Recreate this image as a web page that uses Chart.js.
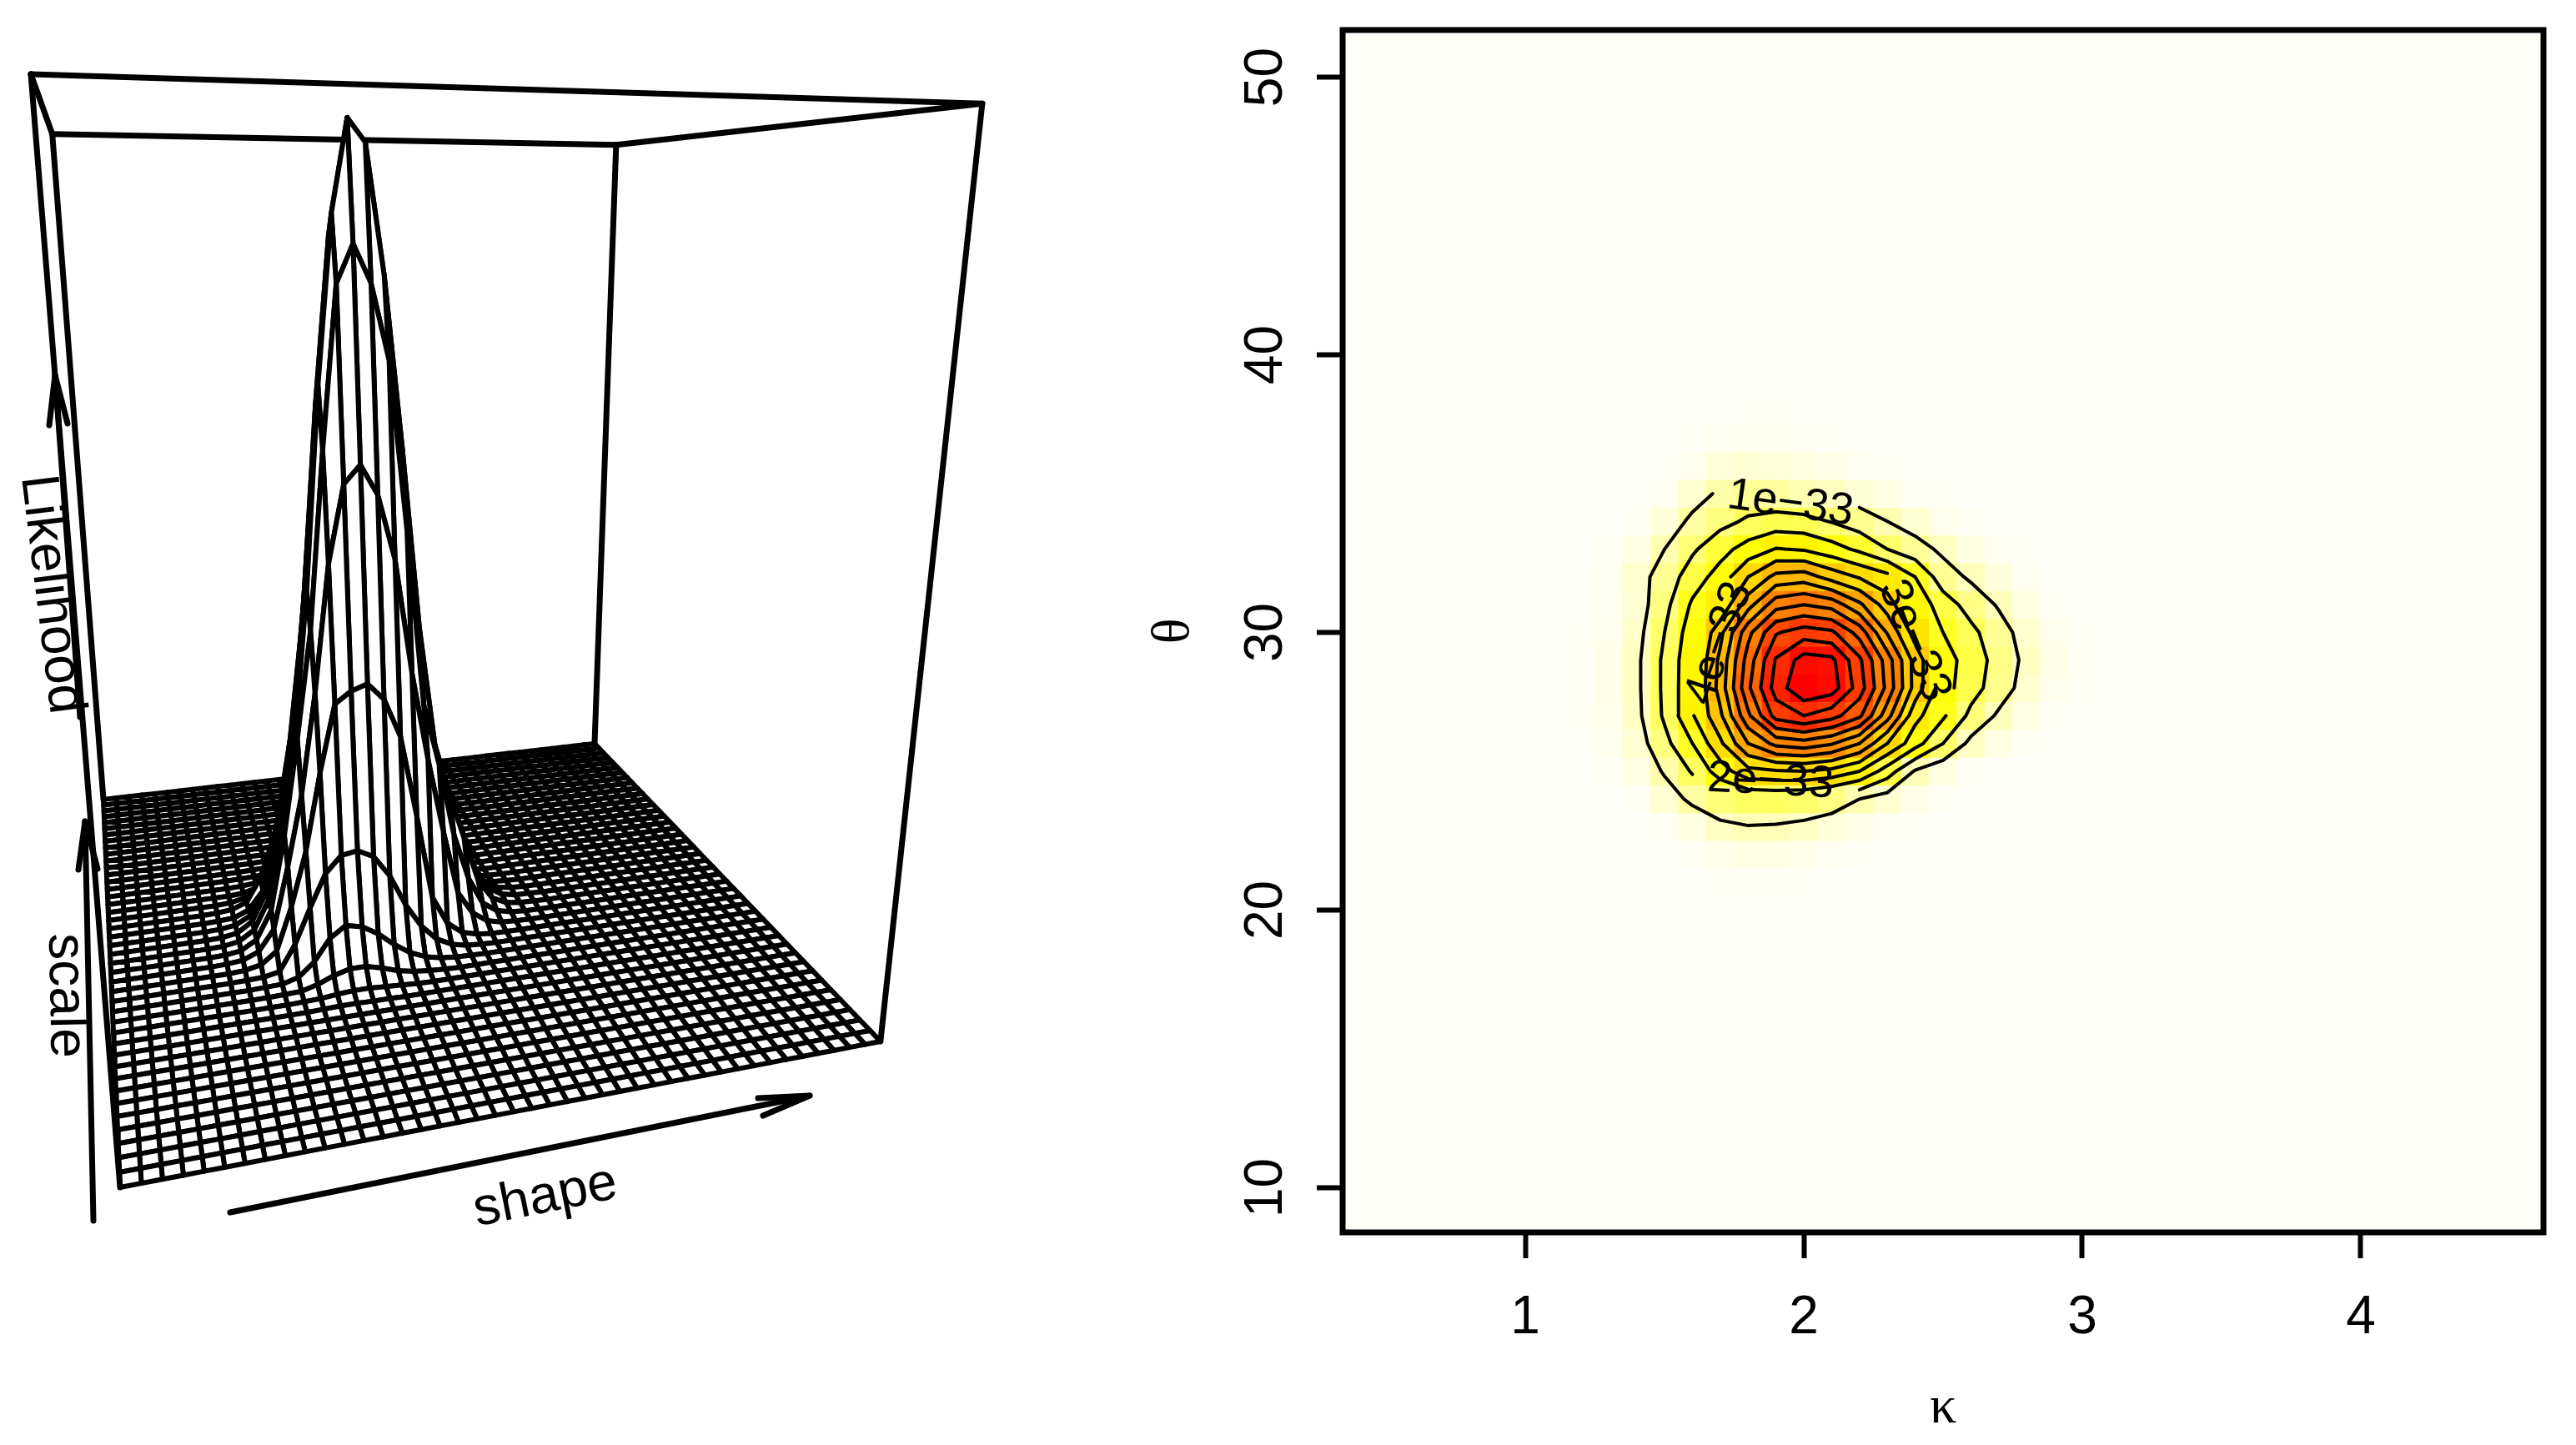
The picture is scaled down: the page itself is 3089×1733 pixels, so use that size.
<!DOCTYPE html>
<html><head><meta charset="utf-8">
<script src="https://cdn.jsdelivr.net/npm/chart.js@4"></script>
<style>html,body{margin:0;padding:0;background:#fff}canvas{position:absolute;top:0}</style>
</head><body>
<canvas id="persp" width="1300" height="1733" style="left:0"></canvas>
<canvas id="heat" width="1789" height="1733" style="left:1300px"></canvas>
<script>
// Full evaluation grid
const kappaGrid=[0.4,0.5,0.6,0.7,0.8,0.9,1.0,1.1,1.2,1.3,1.4,1.5,1.6,1.7,1.8,1.9,2.0,2.1,2.2,2.3,2.4,2.5,2.6,2.7,2.8,2.9,3.0,3.1,3.2,3.3,3.4,3.5,3.6,3.7,3.8,3.9,4.0,4.1,4.2,4.3,4.4,4.5,4.6];
const thetaGrid=[9,10,11,12,13,14,15,16,17,18,19,20,21,22,23,24,25,26,27,28,29,30,31,32,33,34,35,36,37,38,39,40,41,42,43,44,45,46,47,48,49,50,51];
// Likelihood (units of 1e-33); everything outside is ~0
const kappaRead=[1.1,1.2,1.3,1.4,1.5,1.6,1.7,1.8,1.9,2.0,2.1,2.2,2.3,2.4,2.5,2.6,2.7,2.8,2.9,3.0,3.1,3.2];
const thetaRead=[38,37,36,35,34,33,32,31,30,29,28,27,26,25,24,23,22,21,20];
const L38=[0,0,0,0,.01,.02,.04,.06,.05,.03,.02,.01,0,0,0,0,0,0,0,0,0,0];
const L37=[0,0,0,.01,.02,.06,.14,.2,.17,.12,.07,.03,.01,0,0,0,0,0,0,0,0,0];
const L36=[0,0,.01,.02,.05,.2,.45,.55,.45,.35,.25,.15,.06,.03,.01,0,0,0,0,0,0,0];
const L35=[0,0,.01,.04,.15,.6,1.15,1.4,1.25,1.0,.8,.5,.3,.12,.05,.02,.01,0,0,0,0,0];
const L34=[0,0,.02,.1,.45,1.2,1.7,2.15,2.4,2.33,1.95,1.5,1.0,.55,.2,.08,.03,.01,0,0,0,0];
const L33=[0,.02,.08,.3,1.0,1.85,2.65,3.4,4.05,3.9,3.4,2.8,2.0,1.4,.8,.35,.15,.05,.02,0,0,0];
const L32=[.01,.04,.15,.62,1.42,2.5,3.4,5.0,6.3,6.5,5.6,4.9,4.3,3.0,1.45,.85,.4,.13,.04,.01,0,0];
const L31=[.01,.03,.15,.5,1.7,3.15,4.1,6.6,8.6,9.0,8.6,7.2,5.5,3.7,2.5,1.6,.9,.35,.1,.03,.01,0];
const L30=[.01,.05,.2,.67,2.0,3.55,5.7,8.7,10.9,11.5,11.2,9.6,6.9,4.55,3.0,2.25,1.4,.6,.2,.06,.02,0];
const L29=[.01,.06,.25,.8,2.2,3.75,6.25,9.45,12.1,13.45,13.25,11.2,8.5,5.6,3.5,2.5,1.65,.75,.25,.08,.02,.01];
const L28=[.01,.06,.25,.8,2.2,3.8,6.4,9.8,12.45,13.85,13.5,11.5,8.7,5.6,3.4,2.4,1.5,.6,.2,.06,.02,.01];
const L27=[.01,.05,.22,.75,2.15,3.9,5.8,8.8,11.4,12.0,11.4,10.2,7.4,4.3,3.15,1.75,.85,.3,.1,.03,.01,0];
const L26=[.01,.04,.16,.55,1.7,3.0,4.8,7.0,8.3,8.6,8.1,7.0,5.0,3.4,2.0,.75,.3,.1,.03,.01,0,0];
const L25=[0,.02,.08,.3,1.1,2.1,3.5,4.7,4.9,5.0,4.7,4.0,2.5,.9,.35,.12,.04,.01,0,0,0,0];
const L24=[0,.01,.02,.08,.55,1.2,1.8,2.1,2.15,2.0,1.6,1.0,.55,.25,.1,.03,.01,0,0,0,0,0];
const L23=[0,0,.01,.02,.1,.35,.75,.95,.88,.7,.45,.25,.12,.05,.02,.01,0,0,0,0,0,0];
const L22=[0,0,0,.01,.02,.1,.22,.3,.3,.22,.12,.06,.03,.01,0,0,0,0,0,0,0,0];
const L21=[0,0,0,0,.01,.02,.05,.07,.07,.05,.03,.01,0,0,0,0,0,0,0,0,0,0];
const L20=[0,0,0,0,0,.01,.02,.02,.01,.01,0,0,0,0,0,0,0,0,0,0,0,0];
const rowsRead=[L38,L37,L36,L35,L34,L33,L32,L31,L30,L29,L28,L27,L26,L25,L24,L23,L22,L21,L20];
const peakValue=13.85;
const contourLevels=[1,2,3,4,5,6,7,8,9,10,11,12,13];
const kappaTicks=[1,2,3,4];
const thetaTicks=[10,20,30,40,50];
// Contour labels and the gaps R leaves in the line around each one
const contourLabels=[
 {text:'1e\u221233',k:1.952,t:34.62,angle:8},
 {text:'2e\u221233',k:1.88,t:24.62,angle:3},
 {text:'4e\u221233',k:1.697,t:29.6,angle:-71},
 {text:'3e\u221233',k:2.396,t:29.7,angle:68}];
const contourGaps=[[1,1.672,2.219,34,36],[2,1.605,2.205,23,24.9],[3,2.45,2.6,27.05,28],[4,1.5,1.79,26.98,32.3],[4,2.3,2.7,28.2,32.3]];

function value(k,t){
  const i=thetaRead.indexOf(t), j=kappaRead.findIndex(q=>Math.abs(q-k)<1e-6);
  return (i<0||j<0)?0:rowsRead[i][j];
}
function heat(v){
  const t=Math.min(1,v/peakValue);
  if(t<.25) return `rgb(255,255,${Math.round(250*(1-t/.25))})`;
  return `rgb(255,${Math.round(255*(1-(t-.25)/.75))},0)`;
}
function contourSegments(level){
  const out=[];
  const h=(a,b,va,vb)=>a+(b-a)*(level-va)/(vb-va);
  for(let r=0;r<thetaRead.length-1;r++)for(let c=0;c<kappaRead.length-1;c++){
    const t1=thetaRead[r],t0=thetaRead[r+1],k0=kappaRead[c],k1=kappaRead[c+1];
    const a=rowsRead[r+1][c],b=rowsRead[r+1][c+1],d=rowsRead[r][c],e=rowsRead[r][c+1];
    const p=[];
    if((a<level)!==(b<level))p.push({x:h(k0,k1,a,b),y:t0});
    if((b<level)!==(e<level))p.push({x:k1,y:h(t0,t1,b,e)});
    if((e<level)!==(d<level))p.push({x:h(k1,k0,e,d),y:t1});
    if((d<level)!==(a<level))p.push({x:k0,y:h(t1,t0,d,a)});
    for(let i=0;i+1<p.length;i+=2){
      const mx=(p[i].x+p[i+1].x)/2,my=(p[i].y+p[i+1].y)/2;
      if(contourGaps.some(g=>g[0]===level&&mx>g[1]&&mx<g[2]&&my>g[3]&&my<g[4]))continue;
      out.push(p[i],p[i+1],{x:NaN,y:NaN});
    }
  }
  return out;
}

/* ---------- right panel ---------- */
const cells=[],cellColors=[];
thetaGrid.forEach(t=>kappaGrid.forEach(k=>{cells.push({x:k,y:t});cellColors.push(heat(value(k,t)));}));
const textFont=n=>`${n}px "Liberation Sans"`;
const heatOverlay={id:'heatOverlay',afterDatasetsDraw(ch){
  const {ctx,chartArea:a,scales:{x,y}}=ch;
  ctx.save();
  ctx.fillStyle='#000';ctx.font=textFont(54);ctx.textAlign='center';ctx.textBaseline='middle';
  contourLabels.forEach(l=>{ctx.save();ctx.translate(x.getPixelForValue(l.k),y.getPixelForValue(l.t));
    ctx.rotate(l.angle*Math.PI/180);ctx.fillText(l.text,0,0);ctx.restore();});
  ctx.strokeStyle='#000';ctx.lineWidth=7;ctx.strokeRect(a.left,a.top,a.right-a.left,a.bottom-a.top);
  ctx.restore();
}};
new Chart(document.getElementById('heat'),{
  type:'scatter',
  data:{datasets:[
    ...contourLevels.map(l=>({label:'level '+l,data:contourSegments(l),showLine:true,pointRadius:0,borderColor:'#000',borderWidth:4,borderCapStyle:'round',tension:0,spanGaps:false})),
    {label:'likelihood',data:cells,pointStyle:'rect',pointRadius:24,pointBorderWidth:0,pointBackgroundColor:cellColors,showLine:false}
  ]},
  options:{responsive:false,animation:false,events:[],devicePixelRatio:1,
    layout:{padding:{top:36,right:39,left:0,bottom:0}},
    plugins:{legend:{display:false},tooltip:{enabled:false}},
    scales:{
      x:{type:'linear',min:.344,max:4.656,afterFit(s){s.height=255;s.paddingLeft=0;s.paddingRight=0;},afterBuildTicks(s){s.ticks=kappaTicks.map(v=>({value:v}));},
        grid:{drawOnChartArea:false,tickLength:31,tickWidth:6,tickColor:'#000'},border:{display:false},
        ticks:{color:'#000',font:{family:'Liberation Sans',size:64},padding:34,maxRotation:0,minRotation:0},
        title:{display:true,text:'\u03ba',color:'#000',font:{family:'Liberation Serif',size:64},padding:{top:0,bottom:5}}},
      y:{type:'linear',min:8.39,max:51.7,afterFit(s){s.width=310;s.paddingTop=0;s.paddingBottom=0;},afterBuildTicks(s){s.ticks=thetaTicks.map(v=>({value:v}));},
        grid:{drawOnChartArea:false,tickLength:31,tickWidth:6,tickColor:'#000'},border:{display:false},
        ticks:{color:'#000',font:{family:'Liberation Sans',size:64},padding:24,minRotation:90,maxRotation:90,crossAlign:'center'},
        title:{display:true,text:'\u03b8',color:'#000',font:{family:'Liberation Serif',size:64},padding:{top:70,bottom:0}}}
    }},
  plugins:[heatOverlay]
});

/* ---------- left panel: perspective view, like the matrix R's persp() returns ---------- */
const viewMatrix=[[1101.9,61,-115.14,144],[49.8,161,-1354.6,1424],[.18,.653,-.22,1]];
function project(u,v,z){
  const m=viewMatrix,w=m[2][0]*u+m[2][1]*v+m[2][2]*z+m[2][3];
  return {x:(m[0][0]*u+m[0][1]*v+m[0][2]*z+m[0][3])/w,y:(m[1][0]*u+m[1][1]*v+m[1][2]*z+m[1][3])/w};
}
const uOf=i=>i/(kappaGrid.length-1), vOf=j=>j/(thetaGrid.length-1);
const zOf=(i,j)=>value(kappaGrid[i],thetaGrid[j])/peakValue;
const meshPoint=(i,j)=>project(uOf(i),vOf(j),zOf(i,j));
const lineStyle={showLine:true,pointRadius:0,borderColor:'#000',borderCapStyle:'round',borderJoinStyle:'round',tension:0};
const edge=(a,b)=>({...lineStyle,borderWidth:7,data:[project(...a),project(...b)]});
const backEdges=[[[0,1,0],[0,1,1]],[[1,1,0],[1,1,1]],[[0,1,1],[1,1,1]],[[0,0,1],[0,1,1]],[[1,0,1],[1,1,1]]];
const frontEdges=[[[0,0,0],[0,0,1]],[[1,0,0],[1,0,1]],[[0,0,1],[1,0,1]]];
// mesh facets, nearest first: the library paints later datasets first
const facets=[];
for(let j=0;j<thetaGrid.length-1;j++)for(let i=0;i<kappaGrid.length-1;i++){
  const a=meshPoint(i,j);
  facets.push({...lineStyle,borderWidth:6,fill:'shape',backgroundColor:'#fff',
    data:[a,meshPoint(i+1,j),meshPoint(i+1,j+1),meshPoint(i,j+1),{x:a.x,y:a.y}]});
}
// annotation arrows, in page pixels of this panel's scales
const arrowScale=[[112,1464],[102,985]], arrowScaleHead=[[94,1043],[102,985],[117,1042]];
const arrowLik=[[96,860],[66,450]], arrowLikHead=[[59,510],[66,450],[81,508]];
const arrowShape=[[276,1454],[971,1314]], arrowShapeHead=[[909,1317],[971,1314],[915,1338]];
const toPts=a=>a.map(p=>({x:p[0],y:p[1]}));
const arrows=[arrowScale,arrowScaleHead,arrowLik,arrowLikHead,arrowShape,arrowShapeHead].map(a=>({...lineStyle,borderWidth:7,data:toPts(a)}));
const perspLabels=[
 {text:'shape',x:654,y:1436,angle:-11.4},
 {text:'scale',x:78,y:1194,angle:89},
 {text:'Likelihood',x:61,y:713,angle:83}];
const perspText={id:'perspText',afterDatasetsDraw(ch){
  const {ctx,scales:{x,y}}=ch;
  ctx.save();ctx.fillStyle='#000';ctx.font=textFont(64);ctx.textAlign='center';ctx.textBaseline='middle';
  perspLabels.forEach(l=>{ctx.save();ctx.translate(x.getPixelForValue(l.x),y.getPixelForValue(l.y));
    ctx.rotate(l.angle*Math.PI/180);ctx.fillText(l.text,0,0);ctx.restore();});
  ctx.restore();
}};
new Chart(document.getElementById('persp'),{
  type:'scatter',
  data:{datasets:[...arrows,...frontEdges.map(e=>edge(e[0],e[1])),...facets,...backEdges.map(e=>edge(e[0],e[1]))]},
  options:{responsive:false,animation:false,events:[],devicePixelRatio:1,
    layout:{padding:0},
    plugins:{legend:{display:false},tooltip:{enabled:false}},
    scales:{x:{type:'linear',min:0,max:1300,display:false},y:{type:'linear',min:0,max:1733,reverse:true,display:false}}},
  plugins:[perspText]
});
</script>
</body></html>
